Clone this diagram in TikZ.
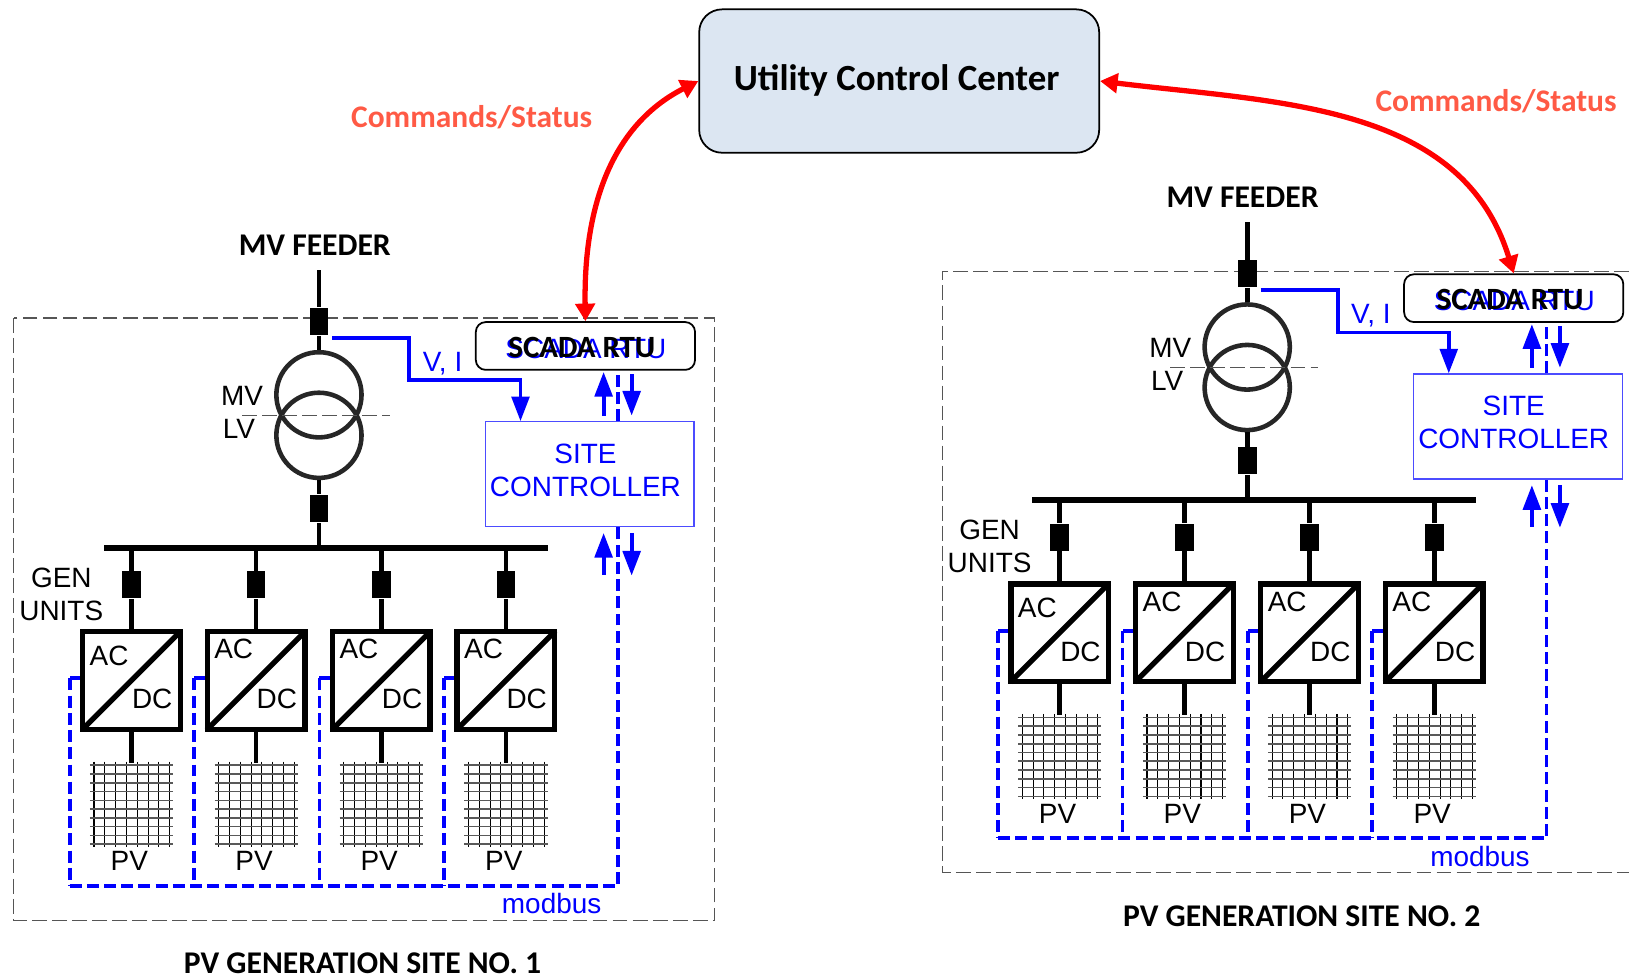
\documentclass[tikz,border=0pt]{standalone}
\usepackage{fontspec}
\usepackage{xcolor}
\setmainfont{Liberation Sans}
\newfontfamily\calibfont{Carlito}
\usetikzlibrary{arrows.meta, positioning, calc}
\definecolor{CenterFill}{HTML}{DCE6F2}
\definecolor{CmdRed}{HTML}{FF5A45}
\definecolor{SigBlue}{HTML}{0000FF}
\definecolor{FrameGray}{HTML}{555555}
\newcommand{\unitpx}{0.010389cm}

\begin{document}
\begin{tikzpicture}[
    x=\unitpx, y=-\unitpx,
    center/.style={draw=black, line width=0.5pt, rounded corners=6.5pt, fill=CenterFill,
                   minimum width=385*\unitpx, minimum height=138*\unitpx, inner sep=0pt},
    head/.style={font=\calibfont\bfseries\fontsize{10.5}{12}\selectfont, inner sep=0pt},
    title/.style={font=\calibfont\bfseries\fontsize{9}{10}\selectfont, inner sep=0pt, text=black},
    cmdtext/.style={font=\calibfont\bfseries\fontsize{8.95}{10}\selectfont, inner sep=0pt, text=CmdRed},
    cmdlink/.style={{Triangle[length=5pt,width=5.5pt]}-{Triangle[length=5pt,width=5.5pt]},
                    draw=red, line width=1.5pt},
    frame/.style={draw=FrameGray, line width=0.35pt, dash pattern=on 4.2pt off 1.5pt},
    lbl/.style={font=\fontsize{7.95}{9.3}\selectfont, inner sep=0pt, align=center},
    sig/.style={lbl, text=SigBlue},
    rtu/.style={draw=black, line width=0.5pt, rounded corners=2.8pt, fill=white,
                minimum width=211*\unitpx, minimum height=46*\unitpx, inner sep=0pt},
    ctrlbox/.style={draw=SigBlue!70, line width=0.35pt, minimum width=201*\unitpx,
                    minimum height=101*\unitpx, inner sep=0pt},
    breaker/.style={fill=black, minimum width=18*\unitpx, minimum height=26*\unitpx, inner sep=0pt},
    coil/.style={draw=black!85, circle, line width=1.3pt, minimum size=82*\unitpx, inner sep=0pt},
    conv/.style={draw=black, line width=1.5pt, fill=white, minimum width=94*\unitpx,
                 minimum height=94*\unitpx, inner sep=0pt},
    array/.style={minimum width=80*\unitpx, minimum height=78*\unitpx, inner sep=0pt},
    busbar/.style={fill=black, minimum width=427*\unitpx, minimum height=5.5*\unitpx, inner sep=0pt},
    power/.style={draw=black, line width=1.3pt},
    meas/.style={draw=SigBlue, line width=1.1pt},
    measarrow/.style={meas, -{Triangle[length=7pt,width=5pt]}},
    modbus/.style={draw=SigBlue, line width=1.1pt, dash pattern=on 3.4pt off 1.5pt},
    cellv/.style={draw=black, line width=0.3pt},
    cellh/.style={draw=black!65, line width=0.45pt}
]
    \useasboundingbox (0,0) rectangle (1568,941.36);

    % Site frames
    \coordinate (frameA) at (13,306);
    \coordinate (frameAend) at (688,886);
    \coordinate (frameB) at (907,261);
    \coordinate (frameBtop) at (1568,261);
    \coordinate (frameBbot) at (1568,840);
    \draw[frame] (frameA) rectangle (frameAend);
    \draw[frame] (frameBtop) -- (frameB) |- (frameBbot);

    % One site, drawn twice
    \foreach \site/\dx/\dy in {a/0/0, b/893.5/-46} {
    \begin{scope}[shift={(\dx,\dy)}, name prefix=\site-]
        \coordinate (feedtop) at (307,260);
        \node[breaker] (brktop) at (307,309.5) {};
        \node[coil] (hvcoil) at (307,380) {};
        \node[coil] (lvcoil) at (307,419) {};
        \node[breaker] (brkmain) at (307,489.5) {};
        \node[busbar] (bus) at (313.5,527.5) {};
        \draw[power] (feedtop) -- (brktop) -- (hvcoil.north);
        \draw[power] (lvcoil.south) -- (brkmain) -- (brkmain |- bus);

        % Voltage level split
        \coordinate (splitL) at (233,400);
        \coordinate (splitR) at (375,400);
        \draw[frame, line width=0.3pt] (splitL) -- (splitR);
        \node[lbl] (mvtext) at (233,381) {MV};
        \node[lbl] (lvtext) at (230,413) {LV};
        \node[lbl] (gentext) at (59,572) {GEN\\UNITS};

        % Control boxes
        \node[rtu] (scada) at (563.5,333) {};
        \node[sig] (scadablue) at (564,336) {SCADA RTU};
        \node[title, font=\calibfont\bfseries\fontsize{8.8}{10}\selectfont] (scadatext) at (560,334) {SCADA RTU};
        \node[ctrlbox] (ctrl) at (567.5,456.5) {};
        \node[sig] (ctrltext) at (563.5,452.5) {SITE\\CONTROLLER};

        % Measurement path
        \coordinate (tapstart) at (320,325);
        \coordinate (tapa) at (394,325);
        \coordinate (tapb) at (394,366);
        \coordinate (tapc) at (501,366);
        \draw[measarrow] (tapstart) -- (tapa) -- (tapb) -- (tapc) -- (tapc |- ctrl.north);
        \node[sig] (vitext) at (426,350) {V, I};

        % Generating units
        \foreach \i/\bx/\acy in {1/126.5/631, 2/246.5/625, 3/367/625, 4/487/625} {
            \node[breaker] (brk\i) at (\bx,563) {};
            \node[conv] (conv\i) at (\bx,655) {};
            \node[array] (pv\i) at (\bx,774) {};
            \draw[power] (bus.center -| brk\i) -- (brk\i) -- (conv\i.north);
            \draw[power] (conv\i.south) -- (pv\i.north);
            \draw[power, line width=1.5pt, shorten >=0.8pt, shorten <=0.8pt] (conv\i.south west) -- (conv\i.north east);
            \node[lbl] (ac\i) at (\bx-21.5,\acy) {AC};
            \node[lbl] (dc\i) at (\bx+20,673) {DC};
            \node[lbl] (pvtext\i) at (\bx-2,829) {PV};
            \foreach \k in {0,...,7}
                \draw[cellv] (\bx-36+\k*10.4,733) -- (\bx-36+\k*10.4,815);
            \foreach \k in {0,...,9}
                \draw[cellh] (\bx-40,736.5+\k*8.45) -- (\bx+40,736.5+\k*8.45);
            \coordinate (turn\i) at (\bx-59.5,653);
            \coordinate (tap\i) at (\bx-59.5,853);
            \draw[meas] (conv\i.west |- turn\i) -- (turn\i);
            \draw[modbus] (turn\i) -- (tap\i);
        }

        % Modbus line
        \coordinate (busend) at (595,853);
        \draw[modbus] (tap1) -- (busend) -- (busend |- ctrl.south);
        \draw[modbus] (busend |- ctrl.north) -- (busend |- scada.south);
        \node[sig] (modbustext) at (531,870) {modbus};

        % Signal arrows
        \foreach \nm/\xa/\ya/\yb in {upper/581/400/358, lower/581/553/513, dnupper/608/360/400, dnlower/608/513/554} {
            \coordinate (\nm a) at (\xa,\ya);
            \coordinate (\nm b) at (\xa,\yb);
            \draw[measarrow] (\nm a) -- (\nm b);
        }
    \end{scope}
    }

    % Utility and links
    \node[center] (utility) at (865.5,78) {};
    \node[head] (utilitytext) at (863,77) {Utility Control Center};
    \draw[cmdlink] (utility.west) to[out=207,in=91] (a-scada.north);
    \draw[cmdlink] (utility.east) to[out=-7,in=107] (b-scada.north);

    \node[cmdtext] (cmdleft) at (454,113) {Commands/Status};
    \node[cmdtext] (cmdright) at (1440,97) {Commands/Status};
    \node[title] (feeda) at (303,236) {MV FEEDER};
    \node[title] (feedb) at (1196,190) {MV FEEDER};
    \node[title] (sitea) at (349,927.5) {PV GENERATION SITE NO. 1};
    \node[title] (siteb) at (1253,882) {PV GENERATION SITE NO. 2};
\end{tikzpicture}
\end{document}
